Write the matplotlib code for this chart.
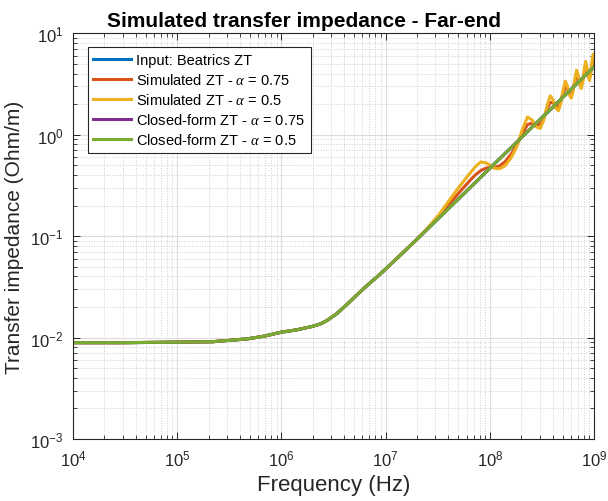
import numpy as np
import matplotlib
matplotlib.use("Agg")
import matplotlib.pyplot as plt

############## Daten ##############
# gemeinsamer Niederfrequenz-Teil, Frequenz in Hz, ZT in Ohm/m
f_low = [1e4, 3e4, 1e5, 2.2e5, 4.7e5, 6.8e5, 1e6, 1.4e6, 2e6, 2.4e6, 2.7e6,
         3.0e6, 3.4e6, 3.8e6, 4.3e6, 5.2e6, 6.6e6, 8.9e6, 1e7]
zt_low = [0.0089, 0.0089, 0.0090, 0.0091, 0.0097, 0.0103, 0.0113, 0.0119, 0.0129, 0.0137, 0.0146,
          0.0157, 0.0172, 0.0191, 0.0214, 0.0258, 0.0324, 0.0423, 0.0473]

# Input / closed-form, oberhalb 10 MHz
f_cf = [2e7, 5e7, 1e8, 2e8, 5e8, 1e9]
zt_cf = [0.093, 0.232, 0.465, 0.93, 2.32, 4.65]

# simulierte Kurven, Frequenz in 1e8 Hz
f_sim = [0.20, 0.25, 0.32, 0.40, 0.50, 0.63, 0.72, 0.82, 0.92, 1.02,
         1.12, 1.25, 1.40, 1.60, 1.80, 2.05, 2.30, 2.55, 2.80, 3.05,
         3.30, 3.55, 3.80, 4.05, 4.30, 4.55, 4.80, 5.05, 5.30, 5.55,
         5.80, 6.05, 6.30, 6.55, 6.80, 7.05, 7.30, 7.55, 7.80, 8.05,
         8.30, 8.55, 8.80, 9.05, 9.30, 9.55, 9.80, 10.0]
zt_sim_075 = [0.0929, 0.1175, 0.1538, 0.2014, 0.2636, 0.3438, 0.3976, 0.4422, 0.4683, 0.4738,
              0.4744, 0.4941, 0.5410, 0.6399, 0.7801, 1.0208, 1.2554, 1.2982, 1.2421, 1.2623,
              1.4639, 1.8073, 2.0740, 2.0618, 1.9075, 1.8831, 2.1293, 2.5709, 2.8927, 2.8255,
              2.5729, 2.5039, 2.7947, 3.3346, 3.7114, 3.5891, 3.2383, 3.1247, 3.4601, 4.0982,
              4.5301, 4.3528, 3.9037, 3.7455, 4.1255, 4.8619, 5.3487, 5.295]
zt_sim_05 = [0.0929, 0.1188, 0.1593, 0.2183, 0.2992, 0.4038, 0.4779, 0.5382, 0.5256, 0.4961,
             0.4635, 0.4610, 0.4936, 0.5901, 0.7450, 1.119, 1.491, 1.392, 1.186, 1.152,
             1.398, 1.938, 2.409, 2.210, 1.822, 1.718, 2.033, 2.756, 3.360, 3.029,
             2.457, 2.285, 2.669, 3.575, 4.312, 3.848, 3.092, 2.851, 3.304, 4.394,
             5.263, 4.667, 3.728, 3.418, 3.940, 5.212, 6.214, 6.122]

labels = ["Input: Beatrics ZT",
          r"Simulated ZT - $\mathit{\alpha}$ = 0.75",
          r"Simulated ZT - $\mathit{\alpha}$ = 0.5",
          r"Closed-form ZT - $\mathit{\alpha}$ = 0.75",
          r"Closed-form ZT - $\mathit{\alpha}$ = 0.5"]
colors = ["#0072BD", "#D95319", "#EDB120", "#7E2F8E", "#77AC30"]

############## Schrift ##############
plt.rcParams["font.family"] = ["Liberation Sans", "DejaVu Sans"]
plt.rcParams["mathtext.fontset"] = "custom"
plt.rcParams["mathtext.rm"] = "Liberation Serif"
plt.rcParams["mathtext.it"] = "Liberation Serif:italic"
plt.rcParams["mathtext.default"] = "regular"

############## Zusammensetzen ##############
f_all = np.concatenate([f_low, f_cf])
zt_input = np.concatenate([zt_low, zt_cf])
f_s = np.concatenate([f_low, np.array(f_sim) * 1e8])
zt_s075 = np.concatenate([zt_low, zt_sim_075])
zt_s05 = np.concatenate([zt_low, zt_sim_05])

############## Plot ##############
fig, ax = plt.subplots(figsize=(6.08, 5.02), dpi=100)
fig.subplots_adjust(left=0.120, right=0.977, bottom=0.1235, top=0.932)

lw = 2.2
ax.loglog(f_all, zt_input, color=colors[0], lw=lw, label=labels[0])
ax.loglog(f_s, zt_s075, color=colors[1], lw=lw, label=labels[1])
ax.loglog(f_s, zt_s05, color=colors[2], lw=lw, label=labels[2])
ax.loglog(f_all, zt_input, color=colors[3], lw=lw, label=labels[3])
ax.loglog(f_all, zt_input, color=colors[4], lw=lw, label=labels[4])

ax.set_xlim(1e4, 1e9)
ax.set_ylim(1e-3, 1e1)

ax.grid(True, which="major", color="#dcdcdc", lw=0.8, ls="-")
ax.grid(True, which="minor", color="#cfcfcf", lw=0.7, ls=":")
ax.set_axisbelow(True)

ax.tick_params(which="both", direction="in", top=True, right=True, colors="#262626",
               labelcolor="#262626", labelsize=12)
ax.tick_params(which="major", length=5, width=0.7, pad=7)
ax.tick_params(which="minor", length=3, width=0.6)
for s in ax.spines.values():
    s.set_color("#262626")
    s.set_linewidth(0.8)

ax.set_xlabel("Frequency (Hz)", fontsize=16, color="#262626")
ax.set_ylabel("Transfer impedance (Ohm/m)", fontsize=15, color="#262626")
ax.set_title("Simulated transfer impedance - Far-end", fontsize=15, fontweight="bold",
             pad=5, x=0.443)

leg = ax.legend(loc="upper left", bbox_to_anchor=(0.028, 0.966), borderaxespad=0,
                fontsize=10.5, handlelength=2.6, handletextpad=0.35, labelspacing=0.35,
                fancybox=False, framealpha=1, edgecolor="#262626", borderpad=0.4)
leg.get_frame().set_linewidth(0.8)

plt.savefig("out.png", dpi=100)
